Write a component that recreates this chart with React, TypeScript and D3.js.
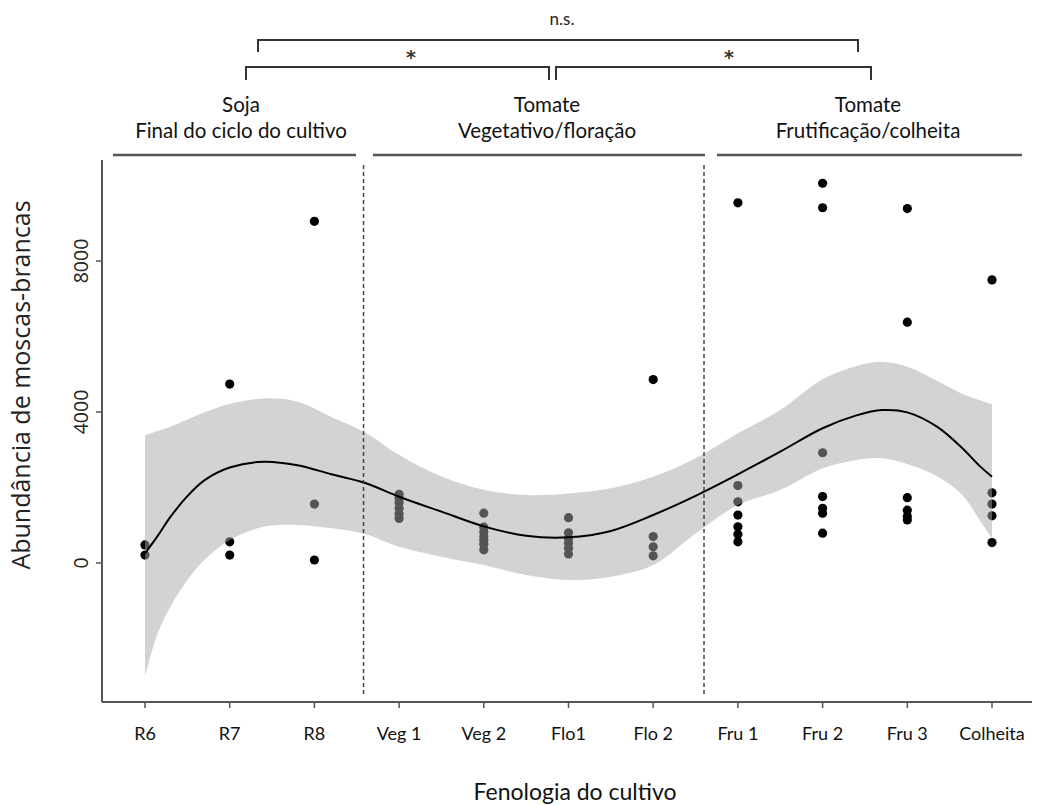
import React from "react";
import * as d3 from "d3";

const categories = ["R6", "R7", "R8", "Veg 1", "Veg 2", "Flo1", "Flo 2", "Fru 1", "Fru 2", "Fru 3", "Colheita"];

const obsR6 = [480, 210];
const obsR7 = [4740, 560, 210];
const obsR8 = [9050, 1560, 80];
const obsVeg1 = [1820, 1720, 1600, 1450, 1300, 1180];
const obsVeg2 = [1320, 950, 820, 700, 600, 500, 350];
const obsFlo1 = [1200, 800, 650, 520, 390, 240];
const obsFlo2 = [4860, 700, 430, 190];
const obsFru1 = [9540, 2050, 1620, 1270, 960, 760, 560];
const obsFru2 = [10060, 9410, 2920, 1760, 1450, 1320, 790];
const obsFru3 = [9390, 6380, 1730, 1400, 1230, 1140];
const obsColheita = [7500, 1860, 1560, 1250, 540];
const observations = [obsR6, obsR7, obsR8, obsVeg1, obsVeg2, obsFlo1, obsFlo2, obsFru1, obsFru2, obsFru3, obsColheita];

// smoothed trend (position along category axis) with its confidence band
const smoothX = [0, 0.15, 0.3, 0.5, 0.7, 1, 1.4, 1.8, 2.2, 2.6, 3, 3.5, 4, 4.5, 5, 5.5, 6, 6.5, 7, 7.5, 8, 8.4, 8.7, 9, 9.35, 9.65, 9.85, 10];
const smoothFit = [256, 720, 1220, 1770, 2190, 2530, 2683, 2590, 2350, 2120, 1756, 1360, 970, 720, 680, 850, 1272, 1780, 2350, 2950, 3570, 3910, 4050, 3990, 3611, 3040, 2580, 2286];
const smoothUpper = [3391, 3500, 3610, 3800, 3990, 4210, 4360, 4273, 3870, 3460, 2861, 2290, 1940, 1800, 1840, 1978, 2286, 2773, 3435, 4050, 4866, 5220, 5333, 5200, 4830, 4480, 4320, 4210];
const smoothLower = [-3011, -1862, -1157, -450, 79, 609, 962, 1007, 919, 770, 432, 168, -53, -318, -450, -362, -53, 780, 1536, 1934, 2508, 2729, 2773, 2620, 2300, 1800, 1150, 650];

const yTicks = [0, 4000, 8000];
const phaseBoundaries = [2.58, 6.6];

const groupTitles = ["Soja", "Tomate", "Tomate"];
const groupSubtitles = ["Final do ciclo do cultivo", "Vegetativo/floração", "Frutificação/colheita"];
const comparisonLabels = ["n.s.", "*", "*"];

const W = 1037;
const H = 805;

export default function App() {
  const x = d3.scaleLinear().domain([0, 10]).range([145, 992]);
  const y = d3.scaleLinear().domain([0, 8000]).range([563, 261]);

  const area = d3
    .area<number>()
    .x((_, i) => x(smoothX[i]))
    .y0((_, i) => y(smoothLower[i]))
    .y1((_, i) => y(smoothUpper[i]))
    .curve(d3.curveCatmullRom.alpha(0.5));
  const line = d3
    .line<number>()
    .x((_, i) => x(smoothX[i]))
    .y((d) => y(d))
    .curve(d3.curveCatmullRom.alpha(0.5));

  const axisX0 = 102;
  const axisY0 = 702;
  const plotTop = 160;
  const axisX1 = 1032;

  // layout of annotation header (pixels)
  const groupRules = [
    [113, 356],
    [373, 705],
    [717, 1022],
  ];
  const groupCenters = [241, 547, 868];

  const calibriLike = "Lato, 'Open Sans', sans-serif";
  const rLike = "'Open Sans', 'Noto Sans', sans-serif";

  const points: { c: number; v: number }[] = [];
  observations.forEach((vals, c) => vals.forEach((v) => points.push({ c, v })));

  return (
    <svg width={W} height={H} style={{ position: "absolute", left: 0, top: 0, background: "#fff" }}>
      <rect x={0} y={0} width={W} height={H} fill="#fff" />

      {/* points (drawn under the band so those inside appear grey) */}
      {points.map((p, i) => (
        <circle key={i} cx={x(p.c)} cy={y(p.v)} r={4.6} fill="#000" />
      ))}

      {/* confidence band */}
      <path d={area(smoothFit) || ""} fill="#a8a8a8" fillOpacity={0.5} stroke="none" />
      {/* fitted curve */}
      <path d={line(smoothFit) || ""} fill="none" stroke="#000" strokeWidth={2} />

      {/* phase boundaries */}
      {phaseBoundaries.map((b, i) => (
        <line key={i} x1={x(b)} x2={x(b)} y1={165} y2={697} stroke="#444" strokeWidth={1.5} strokeDasharray="4,3" />
      ))}

      {/* axes */}
      <line x1={axisX0} x2={axisX0} y1={plotTop} y2={axisY0} stroke="#555" strokeWidth={2} />
      <line x1={axisX0} x2={axisX1} y1={axisY0} y2={axisY0} stroke="#555" strokeWidth={2} />
      {yTicks.map((t) => (
        <g key={t}>
          <line x1={axisX0 - 6} x2={axisX0} y1={y(t)} y2={y(t)} stroke="#555" strokeWidth={1.5} />
          <text
            transform={`translate(88,${y(t)}) rotate(-90)`}
            textAnchor="middle"
            fontFamily={rLike}
            fontSize={19.5}
            fill="#222"
          >
            {t}
          </text>
        </g>
      ))}
      {categories.map((c, i) => (
        <g key={c}>
          <line x1={x(i)} x2={x(i)} y1={axisY0} y2={axisY0 + 6} stroke="#555" strokeWidth={1.5} />
          <text x={x(i)} y={740} textAnchor="middle" fontFamily={calibriLike} fontSize={18} fill="#111">
            {c}
          </text>
        </g>
      ))}

      <text
        transform={`translate(30,385) rotate(-90)`}
        textAnchor="middle"
        fontFamily={rLike}
        fontSize={25}
        fill="#222"
      >
        Abundância de moscas-brancas
      </text>
      <text x={575} y={800} textAnchor="middle" fontFamily={calibriLike} fontSize={23} fill="#111">
        Fenologia do cultivo
      </text>

      {/* group header */}
      {groupRules.map(([a, b], i) => (
        <line key={i} x1={a} x2={b} y1={155} y2={155} stroke="#555" strokeWidth={2.5} />
      ))}
      {groupCenters.map((cx, i) => (
        <g key={i}>
          <text x={cx} y={112} textAnchor="middle" fontFamily={calibriLike} fontSize={20.5} fill="#111">
            {groupTitles[i]}
          </text>
          <text x={cx} y={138} textAnchor="middle" fontFamily={calibriLike} fontSize={20.5} fill="#111">
            {groupSubtitles[i]}
          </text>
        </g>
      ))}

      {/* comparison brackets */}
      <path d="M258,52 V40 H858 V52" fill="none" stroke="#333" strokeWidth={2} />
      <path d="M246,80 V67 H549 V80" fill="none" stroke="#333" strokeWidth={2} />
      <path d="M556,80 V67 H871 V80" fill="none" stroke="#333" strokeWidth={2} />
      <text x={562} y={25} textAnchor="middle" fontFamily={calibriLike} fontSize={17} fill="#222">
        {comparisonLabels[0]}
      </text>
      <text x={411} y={64} textAnchor="middle" fontFamily="'DejaVu Sans', sans-serif" fontWeight="bold" fontSize={19} fill="#333">
        {comparisonLabels[1]}
      </text>
      <text x={729} y={64} textAnchor="middle" fontFamily="'DejaVu Sans', sans-serif" fontWeight="bold" fontSize={19} fill="#333">
        {comparisonLabels[2]}
      </text>
    </svg>
  );
}
